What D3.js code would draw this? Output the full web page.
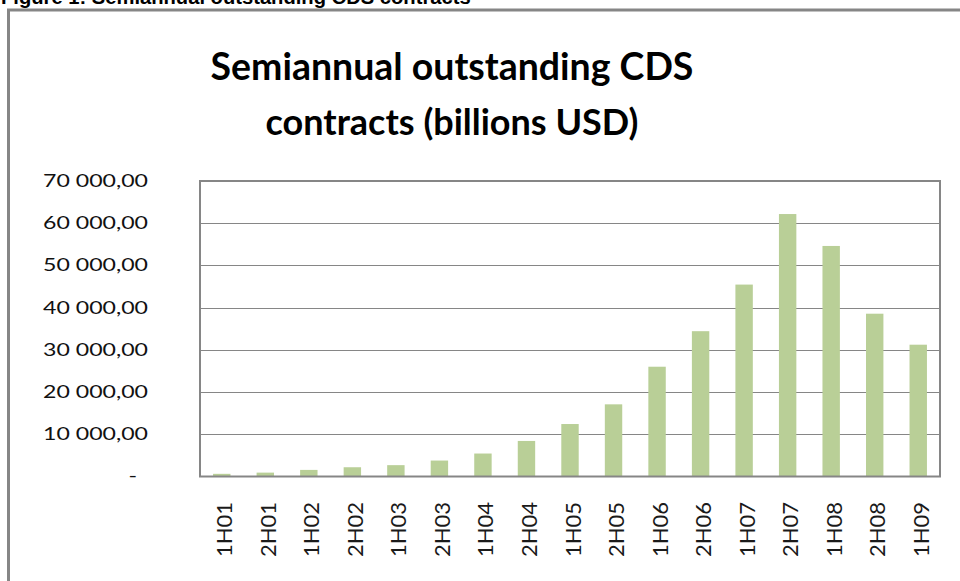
<!DOCTYPE html>
<html>
<head>
<meta charset="utf-8">
<script src="https://cdn.jsdelivr.net/npm/d3@7"></script>
<style>
  html, body { margin: 0; padding: 0; background: #fff; }
  svg { display: block; }
</style>
</head>
<body>
<svg id="chart" width="960" height="581"></svg>
<script>
const categories = ["1H01","2H01","1H02","2H02","1H03","2H03","1H04","2H04","1H05","2H05","1H06","2H06","1H07","2H07","1H08","2H08","1H09"];
const values = [632, 919, 1563, 2192, 2688, 3779, 5442, 8422, 12430, 17096, 26006, 34423, 45464, 62173, 54612, 38564, 31223];
const yTicks = [0, 10000, 20000, 30000, 40000, 50000, 60000, 70000];
const titleLines = ["Semiannual outstanding CDS", "contracts (billions USD)"];
const captionText = "Figure 1: Semiannual outstanding CDS contracts";

const svg = d3.select("#chart");
const gray = "#868686";

// caption (partly cut off at the top, as in the source page)
const cap = svg.append("text")
  .attr("x", 1).attr("y", 4)
  .attr("font-family", "Liberation Sans, Arial, sans-serif")
  .attr("font-weight", "bold")
  .attr("font-size", 18)
  .attr("fill", "#000")
  .text(captionText);
const cw = cap.node().getComputedTextLength();
cap.attr("font-size", 18 * 470 / cw);

// outer frame
svg.append("path")
  .attr("d", "M8.5,581 L8.5,10 L960,10")
  .attr("fill", "none").attr("stroke", gray).attr("stroke-width", 3);

// title
const titleW = [483, 373];
const titleY = [80, 135];
titleLines.forEach((t, i) => {
  const el = svg.append("text")
    .attr("x", 452).attr("y", titleY[i])
    .attr("text-anchor", "middle")
    .attr("font-family", "Lato, 'Open Sans', sans-serif")
    .attr("font-weight", "bold")
    .attr("font-size", 36)
    .attr("fill", "#000")
    .text(t);
  const w = el.node().getComputedTextLength();
  el.attr("font-size", 36 * titleW[i] / w);
});

const x0 = 200, x1 = 940, yTop = 181, yBot = 476.5;
const x = d3.scaleBand().domain(categories).range([x0, x1]).paddingInner(0.6).paddingOuter(0.3);
const y = d3.scaleLinear().domain([0, 70000]).range([yBot, yTop]);

const loc = d3.formatLocale({decimal: ",", thousands: "\u00a0", grouping: [3], currency: ["", ""]});
const fmt = loc.format(",.2f");

// gridlines
svg.append("g").selectAll("line").data(yTicks.filter(d => d > 0 && d < 70000)).join("line")
  .attr("x1", x0).attr("x2", x1)
  .attr("y1", d => Math.round(y(d)) + 0.5).attr("y2", d => Math.round(y(d)) + 0.5)
  .attr("stroke", gray).attr("stroke-width", 1);

// bars
svg.append("g").selectAll("rect").data(categories).join("rect")
  .attr("x", d => x(d))
  .attr("width", x.bandwidth())
  .attr("y", (d, i) => y(values[i]))
  .attr("height", (d, i) => yBot - y(values[i]))
  .attr("fill", "#b9cf97");

// plot border
svg.append("rect")
  .attr("x", x0).attr("y", yTop)
  .attr("width", x1 - x0).attr("height", yBot - yTop)
  .attr("fill", "none").attr("stroke", gray).attr("stroke-width", 2);

// y axis labels
const yAxis = d3.axisLeft(y).tickValues(yTicks).tickSize(0).tickPadding(0)
  .tickFormat(d => d === 0 ? "-" : fmt(d));
const gy = svg.append("g").attr("transform", "translate(148,0)").call(yAxis);
gy.select(".domain").remove();
gy.selectAll("text")
  .attr("font-family", "Lato, 'Open Sans', sans-serif")
  .attr("font-size", 17)
  .attr("fill", "#111")
  .attr("x", 0);
// stretch horizontally so the widest label spans ~105px (right edge fixed)
let maxW = 0;
gy.selectAll("text").each(function() { maxW = Math.max(maxW, this.getComputedTextLength()); });
const sx = 105 / maxW;
gy.selectAll("text").attr("transform", `scale(${sx},1)`)
  .attr("x", d => d === 0 ? -11 / sx : 0);

// x axis labels
const xAxis = d3.axisBottom(x).tickSize(0).tickPadding(0);
const gx = svg.append("g").attr("transform", `translate(0,${yBot})`).call(xAxis);
gx.select(".domain").remove();
gx.selectAll("text")
  .attr("font-family", "Lato, 'Open Sans', sans-serif")
  .attr("font-size", 22)
  .attr("font-weight", 400)
  .attr("fill", "#1a1a1a")
  .attr("text-anchor", "end")
  .attr("dy", null)
  .attr("dominant-baseline", "central")
  .attr("transform", "translate(2,25.5) rotate(-90)")
  .attr("x", 0).attr("y", 0);
</script>
</body>
</html>
